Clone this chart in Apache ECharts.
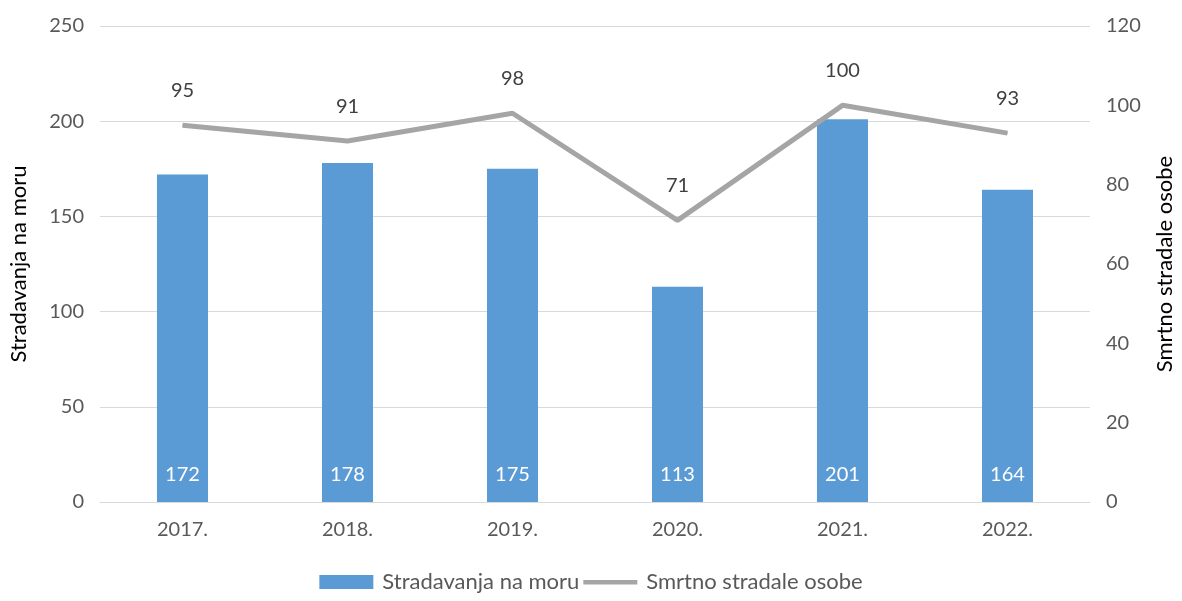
<!DOCTYPE html>
<html>
<head>
<meta charset="utf-8">
<script src="https://cdn.jsdelivr.net/npm/echarts@6/dist/echarts.min.js"></script>
<style>
  html, body { margin: 0; padding: 0; background: #fff; }
  #chart { width: 1182px; height: 601px; }
</style>
</head>
<body>
<div id="chart"></div>
<script>
const years = ['2017.', '2018.', '2019.', '2020.', '2021.', '2022.']
const stradavanja = [172, 178, 175, 113, 201, 164]
const smrtno = [95, 91, 98, 71, 100, 93]

const chart = echarts.init(document.getElementById('chart'))
const font = 'Lato'
const txt = '#595959'

chart.setOption({
    backgroundColor: '#fff',
    textStyle: { fontFamily: font },
    grid: { left: 100, right: 92, top: 26, bottom: 99, outerBoundsMode: 'none' },
    legend: {
        bottom: 3,
        left: 'center',
        itemWidth: 54,
        itemHeight: 14,
        itemGap: 4,
        textStyle: { fontSize: 22, color: txt, fontFamily: font, padding: [0, 0, 0, 4] },
        data: [
            { name: 'Stradavanja na moru', icon: 'rect' },
            // thin bar in the icon box, so it reads as a line
            { name: 'Smrtno stradale osobe', icon: 'path://M0,0 L0,0 M0,5 L54,5 L54,9.5 L0,9.5 Z M54,14 L54,14' }
        ]
    },
    xAxis: {
        type: 'category',
        data: years,
        axisLine: { lineStyle: { color: '#d9d9d9', width: 1 } },
        axisTick: { show: false },
        axisLabel: { fontSize: 20, color: txt, margin: 18 }
    },
    yAxis: [
        {
            type: 'value', min: 0, max: 250, interval: 50,
            name: 'Stradavanja na moru',
            nameLocation: 'middle', nameGap: 70, nameRotate: 90,
            nameTextStyle: { fontSize: 22, color: '#000' },
            axisLabel: { fontSize: 20, color: txt, margin: 16 },
            splitLine: { lineStyle: { color: '#d9d9d9' } }
        },
        {
            type: 'value', min: 0, max: 120, interval: 20,
            name: 'Smrtno stradale osobe',
            nameLocation: 'middle', nameGap: 64, nameRotate: 90,
            nameTextStyle: { fontSize: 22, color: '#000' },
            axisLabel: { fontSize: 20, color: txt, margin: 16 },
            splitLine: { show: false }
        }
    ],
    series: [
        {
            name: 'Stradavanja na moru',
            type: 'bar',
            data: stradavanja,
            barWidth: 51,
            itemStyle: { color: '#5b9bd5' },
            label: {
                show: true, position: 'insideBottom', distance: 17,
                color: '#fff', fontSize: 20
            }
        },
        {
            name: 'Smrtno stradale osobe',
            type: 'line',
            yAxisIndex: 1,
            data: smrtno,
            symbol: 'circle',
            symbolSize: 1,
            lineStyle: { color: '#a5a5a5', width: 5 },
            itemStyle: { color: '#a5a5a5' },
            label: {
                show: true, position: 'top', distance: 24,
                color: '#404040', fontSize: 20
            }
        }
    ]
})
</script>
</body>
</html>
